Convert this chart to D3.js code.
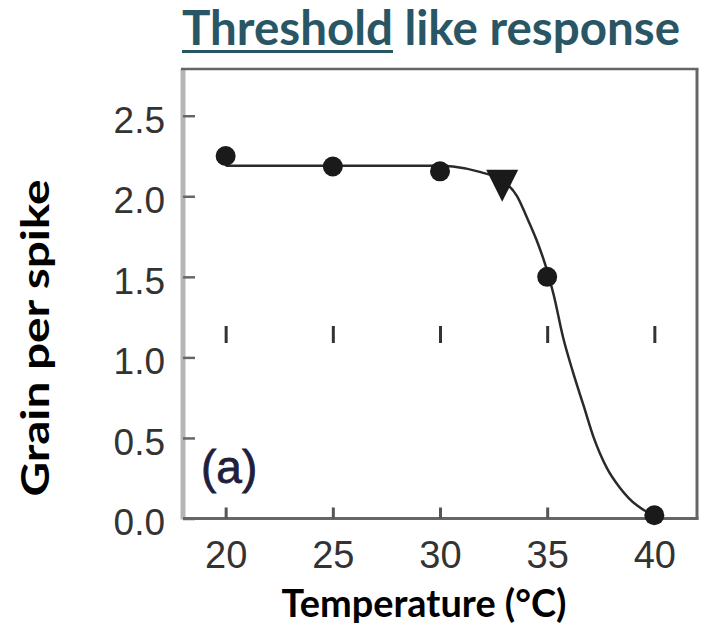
<!DOCTYPE html>
<html>
<head>
<meta charset="utf-8">
<script src="https://cdn.jsdelivr.net/npm/d3@7"></script>
<style>
  body { margin: 0; background: #fff; }
  svg { display: block; }
  .tick text { font-family: "Liberation Sans", Arial, sans-serif; fill: #333; }
  .ttl { font-family: Lato, "Open Sans", sans-serif; font-weight: bold; }
</style>
</head>
<body>
<svg width="710" height="640"></svg>
<script>
// measured points
const temps = [20, 25, 30, 35, 40];
const grain = [2.25, 2.185, 2.155, 1.50, 0.02];
// the single triangle point
const triTemp = [32.9];
const triGrain = [2.065];
// fitted curve
const curveTemp = [20, 25, 30, 30.6, 31.9, 33.0, 33.6, 34.05, 34.5, 34.9, 35.3, 35.75, 36.2, 36.7, 37.15, 37.8, 38.4, 39.2, 39.7, 40];
const curveGrain = [2.19, 2.19, 2.19, 2.185, 2.15, 2.09, 2.0, 1.87, 1.73, 1.58, 1.39, 1.12, 0.91, 0.70, 0.51, 0.31, 0.19, 0.08, 0.04, 0.03];
const xTicks = [20, 25, 30, 35, 40];
const yTicks = [0, 0.5, 1.0, 1.5, 2.0, 2.5];

const svg = d3.select("svg");
const plotL = 183, plotR = 697, plotT = 69, plotB = 518.5;

const x = d3.scaleLinear().domain([18.01, 41.99]).range([plotL, plotR]);
const y = d3.scaleLinear().domain([0, 2.79]).range([plotB, plotT]);

// title
const title = svg.append("text")
    .attr("class", "ttl")
    .attr("x", 182)
    .attr("y", 45)
    .attr("font-size", 47)
    .attr("fill", "#295664")
    .attr("textLength", 498)
    .attr("lengthAdjust", "spacingAndGlyphs")
    .text("Threshold like response");
const tNode = title.node();
const ux0 = tNode.getStartPositionOfChar(0).x;
const ux1 = tNode.getEndPositionOfChar(8).x;
svg.append("rect")
    .attr("x", ux0)
    .attr("y", 50)
    .attr("width", ux1 - ux0)
    .attr("height", 3)
    .attr("fill", "#295664");

// stray tick marks in the middle of the plot
svg.append("g")
    .attr("transform", `translate(0,343)`)
    .call(d3.axisBottom(x).tickValues(xTicks).tickSize(-17).tickFormat(""))
    .call(g => g.select(".domain").remove())
    .call(g => g.selectAll("line").attr("stroke", "#333").attr("stroke-width", 3));

// frame
svg.append("line").attr("x1", plotL).attr("x2", plotL).attr("y1", plotT).attr("y2", plotB + 1)
    .attr("stroke", "#b5b5b5").attr("stroke-width", 5);
svg.append("line").attr("x1", plotL - 2).attr("x2", plotR + 1.5).attr("y1", plotT).attr("y2", plotT)
    .attr("stroke", "#666").attr("stroke-width", 2.5);
svg.append("line").attr("x1", plotR).attr("x2", plotR).attr("y1", plotT).attr("y2", plotB + 1)
    .attr("stroke", "#666").attr("stroke-width", 3);
svg.append("line").attr("x1", plotL).attr("x2", plotR + 1.5).attr("y1", plotB).attr("y2", plotB)
    .attr("stroke", "#666").attr("stroke-width", 3);

// y axis
svg.append("g")
    .attr("transform", `translate(${plotL},0)`)
    .call(d3.axisLeft(y).tickValues(yTicks).tickFormat(d3.format(".1f")).tickSizeInner(-12).tickPadding(18))
    .call(g => g.select(".domain").remove())
    .call(g => g.selectAll("line").attr("stroke", "#666").attr("stroke-width", 2.5))
    .call(g => g.selectAll("text").attr("font-size", 37).attr("dy", "0.44em"));

// x axis
svg.append("g")
    .attr("transform", `translate(0,${plotB})`)
    .call(d3.axisBottom(x).tickValues(xTicks).tickSizeInner(-11).tickPadding(23))
    .call(g => g.select(".domain").remove())
    .call(g => g.selectAll("line").attr("stroke", "#555").attr("stroke-width", 3))
    .call(g => g.selectAll("text").attr("font-size", 38));

// curve
const curve = curveTemp.map((t, i) => [t, curveGrain[i]]);
svg.append("path")
    .datum(curve)
    .attr("fill", "none")
    .attr("stroke", "#2a2a2a")
    .attr("stroke-width", 2.5)
    .attr("d", d3.line().x(d => x(d[0])).y(d => y(d[1])).curve(d3.curveMonotoneX));

// points
svg.selectAll(".pt")
    .data(temps.map((t, i) => [t, grain[i]]))
    .enter()
    .append("circle")
    .attr("class", "pt")
    .attr("cx", d => x(d[0]))
    .attr("cy", d => y(d[1]))
    .attr("r", 10)
    .attr("fill", "#1a1a1a");

svg.selectAll(".tri")
    .data(triTemp.map((t, i) => [t, triGrain[i]]))
    .enter()
    .append("path")
    .attr("class", "tri")
    .attr("transform", d => `translate(${x(d[0])},${y(d[1])})`)
    .attr("d", "M-16,-16L16,-16L0,16Z")
    .attr("fill", "#1a1a1a");

// panel label
svg.append("text")
    .attr("x", 201)
    .attr("y", 483)
    .attr("font-family", "Liberation Sans, Arial, sans-serif")
    .attr("font-size", 46)
    .attr("fill", "#1f1f3d")
    .attr("stroke", "#1f1f3d")
    .attr("stroke-width", 0.8)
    .text("(a)");

// axis titles
svg.append("text")
    .attr("class", "ttl")
    .attr("x", 424)
    .attr("y", 617)
    .attr("text-anchor", "middle")
    .attr("font-size", 39)
    .attr("fill", "#000")
    .attr("textLength", 285)
    .attr("lengthAdjust", "spacingAndGlyphs")
    .text("Temperature (°C)");

svg.append("text")
    .attr("class", "ttl")
    .attr("transform", "translate(49,338) rotate(-90)")
    .attr("text-anchor", "middle")
    .attr("font-size", 39)
    .attr("fill", "#000")
    .attr("textLength", 317)
    .attr("lengthAdjust", "spacingAndGlyphs")
    .text("Grain per spike");
</script>
</body>
</html>
